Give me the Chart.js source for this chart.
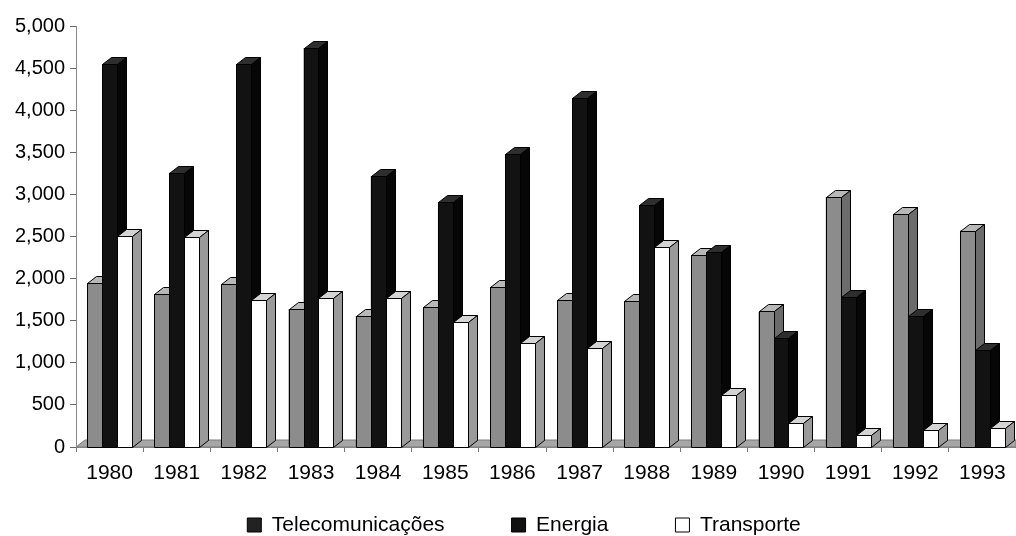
<!DOCTYPE html>
<html>
<head>
<meta charset="utf-8">
<script src="https://cdn.jsdelivr.net/npm/chart.js@4.4.1/dist/chart.umd.min.js"></script>
<style>
  html, body { margin: 0; padding: 0; background: #fff; }
  #wrap { width: 1016px; height: 536px; }
</style>
</head>
<body>
<div id="wrap"><canvas id="chart" width="1016" height="536"></canvas></div>
<script>
// Données
const years = ['1980', '1981', '1982', '1983', '1984', '1985', '1986', '1987', '1988', '1989', '1990', '1991', '1992', '1993'];
const telecom = [1950, 1820, 1930, 1640, 1560, 1660, 1900, 1750, 1730, 2280, 1610, 2970, 2770, 2570];
const energia = [4550, 3260, 4550, 4740, 3220, 2910, 3480, 4140, 2870, 2310, 1300, 1780, 1560, 1150];
const transporte = [2510, 2490, 1750, 1770, 1770, 1490, 1230, 1170, 2370, 620, 290, 140, 200, 230];
const yTicks = [0, 500, 1000, 1500, 2000, 2500, 3000, 3500, 4000, 4500, 5000];

const font = "'Liberation Sans', Arial, sans-serif";

// Couleurs des faces (avant, dessus, côté) pour l'effet 3D
const depth = { dx: 9, dy: 7 };
const faces = [
    { front: '#8c8c8c', top: '#b8b8b8', side: '#6c6c6c', line: '#000' },
    { front: '#121212', top: '#2e2e2e', side: '#060606', line: '#000' },
    { front: '#ffffff', top: '#d4d4d4', side: '#9a9a9a', line: '#000' }
];

function poly(ctx, pts, fill, line) {
    ctx.beginPath();
    ctx.moveTo(pts[0][0], pts[0][1]);
    for (let k = 1; k < pts.length; k++) ctx.lineTo(pts[k][0], pts[k][1]);
    ctx.closePath();
    ctx.fillStyle = fill;
    ctx.fill();
    ctx.strokeStyle = line;
    ctx.lineWidth = 1;
    ctx.stroke();
}

// Plugin : sol gris + barres en relief, dessinées à partir des éléments de Chart.js
const bars3d = {
    id: 'bars3d',
    afterLayout(chart) {
        // agrandir la boîte de la légende vers le haut et la pousser un peu à droite
        const lg = chart.legend;
        lg.top -= 41.5;
        lg.left += 16; lg.right += 16;
    },
    beforeDatasetsDraw(chart) {
        const { ctx, chartArea } = chart;
        const y0 = chart.scales.y.getPixelForValue(0);
        ctx.save();
        poly(ctx, [
            [chartArea.left, y0],
            [chartArea.left + depth.dx, y0 - depth.dy],
            [chartArea.right, y0 - depth.dy],
            [chartArea.right, y0]
        ], '#a6a6a6', '#7a7a7a');
        ctx.restore();
    },
    afterDatasetsDraw(chart) {
        const ctx = chart.ctx;
        ctx.save();
        for (let i = 0; i < years.length; i++) {
            for (let d = 0; d < chart.data.datasets.length; d++) {
                const el = chart.getDatasetMeta(d).data[i];
                const { x, y, base, width } = el.getProps(['x', 'y', 'base', 'width'], true);
                const l = Math.round(x - width / 2) + 0.5;
                const r = Math.round(x + width / 2) + 0.5;
                const t = Math.round(y) + 0.5;
                const b = Math.round(base) + 0.5;
                const f = faces[d];
                poly(ctx, [[l, b], [l, t], [r, t], [r, b]], f.front, f.line);
                poly(ctx, [[l, t], [l + depth.dx, t - depth.dy], [r + depth.dx, t - depth.dy], [r, t]], f.top, f.line);
                poly(ctx, [[r, t], [r + depth.dx, t - depth.dy], [r + depth.dx, b - depth.dy], [r, b]], f.side, f.line);
            }
        }
        ctx.restore();
    }
};

const ctx = document.getElementById('chart').getContext('2d');
const chart = new Chart(ctx, {
    type: 'bar',
    data: {
        labels: years,
        datasets: [
            { label: 'Telecomunicações', data: telecom, backgroundColor: '#222', borderColor: '#000', borderWidth: 1 },
            { label: 'Energia', data: energia, backgroundColor: '#111', borderColor: '#000', borderWidth: 1 },
            { label: 'Transporte', data: transporte, backgroundColor: '#fff', borderColor: '#000', borderWidth: 1 }
        ]
    },
    options: {
        responsive: false,
        animation: false,
        devicePixelRatio: 1,
        layout: { padding: { top: 26, left: 0, right: 0, bottom: 0 } },
        datasets: { bar: { barPercentage: 1, categoryPercentage: 0.67 } },
        scales: {
            x: {
                grid: { drawOnChartArea: false, tickLength: 5, color: '#777', offset: true },
                border: { display: true, color: '#888', width: 1 },
                ticks: { font: { family: font, size: 21 }, color: '#000', padding: 9, maxRotation: 0, autoSkip: false },
                afterFit: s => { s.height = 42; }
            },
            y: {
                min: 0,
                max: 5000,
                grid: { drawOnChartArea: false, tickLength: 6, color: '#666' },
                border: { display: true, color: '#888', width: 1 },
                ticks: {
                    font: { family: font, size: 20 }, color: '#000', padding: 5,
                    callback: v => v.toLocaleString('en-US')
                },
                afterBuildTicks: s => { s.ticks = yTicks.map(v => ({ value: v })); },
                afterFit: s => { s.width = 76; }
            }
        },
        plugins: {
            legend: {
                position: 'bottom',
                maxHeight: 47,
                labels: {
                    font: { family: font, size: 21 },
                    color: '#000',
                    boxWidth: 14,
                    boxHeight: 14,
                    padding: 67
                }
            },
            tooltip: { enabled: false }
        }
    },
    plugins: [bars3d]
});
</script>
</body>
</html>
